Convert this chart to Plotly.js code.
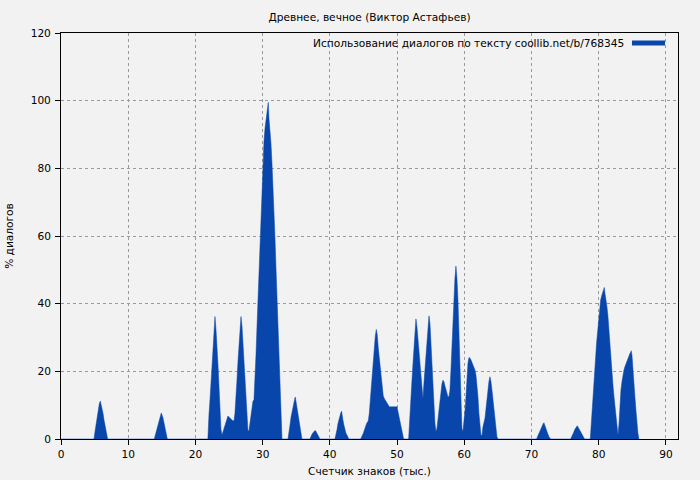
<!DOCTYPE html>
<html>
<head>
<meta charset="utf-8">
<script src="https://cdn.plot.ly/plotly-3.0.1.min.js"></script>
<style>html,body{margin:0;padding:0;background:#f2f2f2;}#chart{width:700px;height:480px;}</style>
</head>
<body>
<div id="chart"></div>
<script>
// Position in text (thousands of characters)
var charCount = [
  0,
  4.91, 5.06, 5.21, 5.41, 5.55, 5.70, 5.85, 6.05, 6.25, 6.40, 6.60, 6.80, 6.94,
  13.88, 14.09, 14.38, 14.68, 14.92, 15.17, 15.47, 15.72, 15.82,
  21.85, 21.87, 22.02, 22.17, 22.31, 22.46, 22.61, 22.76, 22.91, 23.06, 23.21, 23.36, 23.51, 23.65, 23.80, 23.95,
  24.10, 24.25, 24.40, 24.55, 24.70, 24.84, 24.99, 25.14, 25.29, 25.44, 25.59, 25.74, 25.88, 26.03, 26.18, 26.33,
  26.48, 26.63, 26.78, 26.93, 27.08, 27.22, 27.37, 27.52, 27.67, 27.82, 27.97, 28.12, 28.27, 28.41, 28.56, 28.71,
  28.86, 29.01, 29.16, 29.31, 29.46, 29.60, 29.75, 29.90, 30.05, 30.20, 30.35, 30.50, 30.65, 30.79, 30.84, 30.94,
  31.09, 31.24, 31.39, 31.54, 31.69, 31.84, 31.98, 32.13, 32.28, 32.43, 32.58, 32.73, 32.88,
  33.77, 33.92, 34.07, 34.22, 34.36, 34.51, 34.66, 34.81, 34.86, 34.96, 35.11, 35.26, 35.41, 35.56, 35.70, 35.85,
  37.04, 37.34, 37.64, 37.84, 37.94, 38.23, 38.53,
  40.76, 40.91, 41.06, 41.21, 41.36, 41.51, 41.65, 41.75, 41.80, 41.95, 42.10, 42.25, 42.40, 42.84,
  44.58, 44.98, 45.22, 45.47, 45.72, 45.87, 46.02, 46.17, 46.32, 46.47, 46.61, 46.76, 46.91, 47.06, 47.21, 47.36,
  47.51, 47.66, 47.81, 47.95, 48.10, 48.25, 48.40, 48.55, 48.70, 48.85, 49.99, 50.09, 50.24, 50.39, 50.53, 50.68,
  50.83, 50.98,
  51.72, 51.77, 51.92, 52.07, 52.22, 52.37, 52.51, 52.66, 52.81, 52.96, 53.11, 53.26, 53.41, 53.56, 53.71, 53.85,
  54.00, 54.15, 54.30, 54.45, 54.60, 54.75, 54.90, 55.04, 55.19, 55.34, 55.49, 55.64, 55.79, 55.94, 56.09, 56.23,
  56.38, 56.53, 56.68, 56.83, 56.98, 57.13, 57.28, 57.42, 57.57, 57.72, 57.87, 58.02, 58.17, 58.32, 58.47, 58.61,
  58.76, 58.91, 59.06, 59.21, 59.36, 59.51, 59.65, 59.80, 59.95, 60.10, 60.25, 60.40, 60.55, 60.70, 60.85, 60.99,
  61.14, 61.29, 61.44, 61.59, 61.74, 61.89, 62.04, 62.18, 62.33, 62.48, 62.63, 62.78, 63.08, 63.23, 63.37, 63.52,
  63.67, 63.82, 63.97, 64.12, 64.27, 64.42, 64.56, 64.71, 64.86, 65.01,
  70.76, 70.86, 71.01, 71.16, 71.31, 71.46, 71.61, 71.76, 71.85, 72.00, 72.15, 72.30, 72.45, 72.60, 72.85,
  75.82, 75.97, 76.12, 76.27, 76.42, 76.56, 76.71, 76.81, 76.96, 77.11, 77.26, 77.41, 77.56, 77.71, 77.90,
  78.75, 78.80, 78.94, 79.09, 79.24, 79.39, 79.54, 79.69, 79.84, 79.99, 80.14, 80.29, 80.44, 80.58, 80.73, 80.83,
  80.93, 81.08, 81.23, 81.38, 81.53, 81.68, 81.83, 81.98, 82.12, 82.27, 82.42, 82.57, 82.72, 82.87, 83.02, 83.17,
  83.31, 83.46, 83.61, 83.76, 83.91, 84.06, 84.20, 84.35, 84.50, 84.65, 84.80, 84.84, 84.95, 85.10, 85.24, 85.39,
  85.54, 85.69, 85.84, 85.99
];
// Share of dialogues, %
var dialogPct = [
  0,
  0, 2.2, 4.1, 6.6, 9.6, 10.4, 11.2, 9.6, 7.6, 5.6, 3.6, 1.7, 0,
  0, 1.5, 4.0, 6.3, 7.7, 6.3, 3.8, 1.3, 0,
  0, 2.0, 7.4, 11.7, 16.5, 20.6, 28.0, 33.2, 36.2, 32.4, 28.3, 21.9, 15.5, 8.6, 2.9, 1.2,
  2.2, 3.2, 4.1, 5.1, 6.3, 6.8, 6.5, 6.1, 5.9, 5.6, 5.4, 5.4, 7.6, 11.5, 17.4, 22.9,
  28.3, 33.2, 36.2, 33.4, 28.3, 23.4, 17.5, 11.0, 5.0, 2.4, 2.5, 4.5, 7.6, 9.6, 11.2, 11.5,
  16.5, 24.8, 33.2, 41.6, 50.4, 59.5, 67.7, 76.6, 83.0, 87.9, 91.8, 94.8, 97.3, 99.2, 99.5, 94.8,
  91.8, 87.4, 81.5, 75.6, 67.7, 59.3, 50.9, 42.6, 33.2, 24.8, 15.5, 7.1, 0,
  0, 1.7, 4.1, 6.4, 8.1, 9.6, 10.9, 12.2, 12.4, 11.0, 9.6, 7.6, 5.6, 3.6, 1.9, 0,
  0, 1.4, 2.2, 2.5, 2.2, 1.1, 0,
  0, 1.1, 2.7, 4.6, 6.1, 7.3, 7.9, 8.2, 7.1, 5.6, 4.1, 2.9, 1.7, 0,
  0, 1.7, 3.2, 4.6, 5.4, 7.6, 11.5, 15.5, 18.9, 22.9, 26.8, 30.4, 32.4, 30.7, 26.8, 24.1,
  20.9, 17.4, 14.5, 12.7, 12.0, 11.5, 11.0, 10.5, 10.0, 9.5, 9.5, 8.6, 7.1, 5.6, 4.4, 2.7,
  1.2, 0,
  0, 2.2, 7.6, 12.5, 17.4, 22.4, 27.8, 32.2, 35.5, 33.2, 29.8, 25.8, 22.4, 18.9, 15.5, 12.0,
  16.5, 20.9, 25.3, 29.3, 34.0, 36.4, 34.1, 27.3, 21.4, 15.5, 10.5, 4.6, 2.2, 3.2, 6.1, 8.1,
  11.0, 13.5, 16.3, 17.4, 16.9, 15.7, 14.5, 13.5, 12.5, 12.5, 14.5, 20.4, 27.8, 34.7, 41.1, 47.5,
  51.1, 47.5, 41.1, 32.7, 21.9, 10.5, 3.2, 2.2, 4.6, 8.1, 12.5, 18.9, 22.4, 24.1, 23.9, 23.4,
  22.6, 21.9, 21.2, 20.4, 18.9, 16.0, 12.5, 7.6, 4.1, 1.2, 1.0, 3.6, 6.1, 8.8, 12.0, 15.5,
  17.0, 18.4, 17.0, 14.5, 11.5, 9.1, 6.1, 3.6, 0.7, 0,
  0, 0.5, 1.2, 2.2, 2.9, 3.6, 4.1, 4.6, 4.8, 3.8, 2.9, 2.0, 1.4, 0.7, 0,
  0, 0.5, 1.2, 1.9, 2.7, 3.2, 3.6, 3.9, 3.4, 2.9, 2.2, 1.7, 1.0, 0.5, 0,
  0, 1.7, 6.6, 11.0, 15.7, 20.4, 25.1, 28.5, 31.7, 35.2, 38.9, 41.1, 42.3, 43.1, 43.8, 44.8,
  43.1, 41.3, 39.1, 36.2, 32.2, 25.8, 21.4, 18.4, 16.0, 12.7, 10.0, 7.6, 4.4, 1.2, 4.4, 10.5,
  14.5, 16.9, 18.9, 20.4, 21.4, 22.2, 23.1, 24.1, 24.8, 25.3, 25.8, 26.1, 24.8, 21.4, 16.5, 12.5,
  8.6, 4.6, 1.7, 0
];
var chartTitle = 'Древнее, вечное (Виктор Астафьев)';
var seriesName = 'Использование диалогов по тексту coollib.net/b/768345';
var xTitle = 'Счетчик знаков (тыс.)';
var yTitle = '% диалогов';
var xTicks = [0, 10, 20, 30, 40, 50, 60, 70, 80, 90];
var yTicks = [0, 20, 40, 60, 80, 100, 120];

var blue = '#0846ab';
var font = {family: 'DejaVu Sans', size: 10.6, color: '#000'};

var trace = {
  x: charCount, y: dialogPct, type: 'scatter', mode: 'lines',
  fill: 'tozeroy', fillcolor: blue,
  line: {color: blue, width: 0.5, shape: 'linear'},
  name: seriesName, showlegend: false, hoverinfo: 'x+y'
};

var axisCommon = {
  showline: true, linecolor: '#000', linewidth: 1, mirror: true,
  ticks: 'outside', ticklen: 5, tickcolor: '#000', tickwidth: 1,
  showgrid: true, gridcolor: '#9a9a9a', gridwidth: 1, griddash: '3px,3px',
  zeroline: false, tickfont: font
};

var layout = {
  width: 700, height: 480,
  paper_bgcolor: '#f2f2f2', plot_bgcolor: '#f2f2f2',
  margin: {l: 61, r: 22, t: 33, b: 41},
  font: font,
  title: {text: chartTitle, font: font, x: 0.5, xref: 'paper', xanchor: 'center', y: 0.965, yref: 'container', yanchor: 'middle'},
  xaxis: Object.assign({}, axisCommon, {
    range: [0, 91.8], tickvals: xTicks, ticktext: xTicks.map(String),
    title: {text: xTitle, font: font, standoff: 8}
  }),
  yaxis: Object.assign({}, axisCommon, {
    range: [0, 120], tickvals: yTicks, ticktext: yTicks.map(String),
    ticklabelstandoff: 2,
    title: {text: yTitle, font: font, standoff: 14}
  }),
  showlegend: false,
  annotations: [{
    text: seriesName, xref: 'paper', yref: 'paper', x: 0.9157, y: 0.9754,
    xanchor: 'right', yanchor: 'middle', showarrow: false, font: font
  }],
  shapes: [{
    type: 'line', xref: 'paper', yref: 'paper', x0: 0.9254, x1: 0.9789, y0: 0.9754, y1: 0.9754,
    line: {color: blue, width: 5}
  }]
};

Plotly.newPlot('chart', [trace], layout, {displayModeBar: false, staticPlot: true});
</script>
</body>
</html>
